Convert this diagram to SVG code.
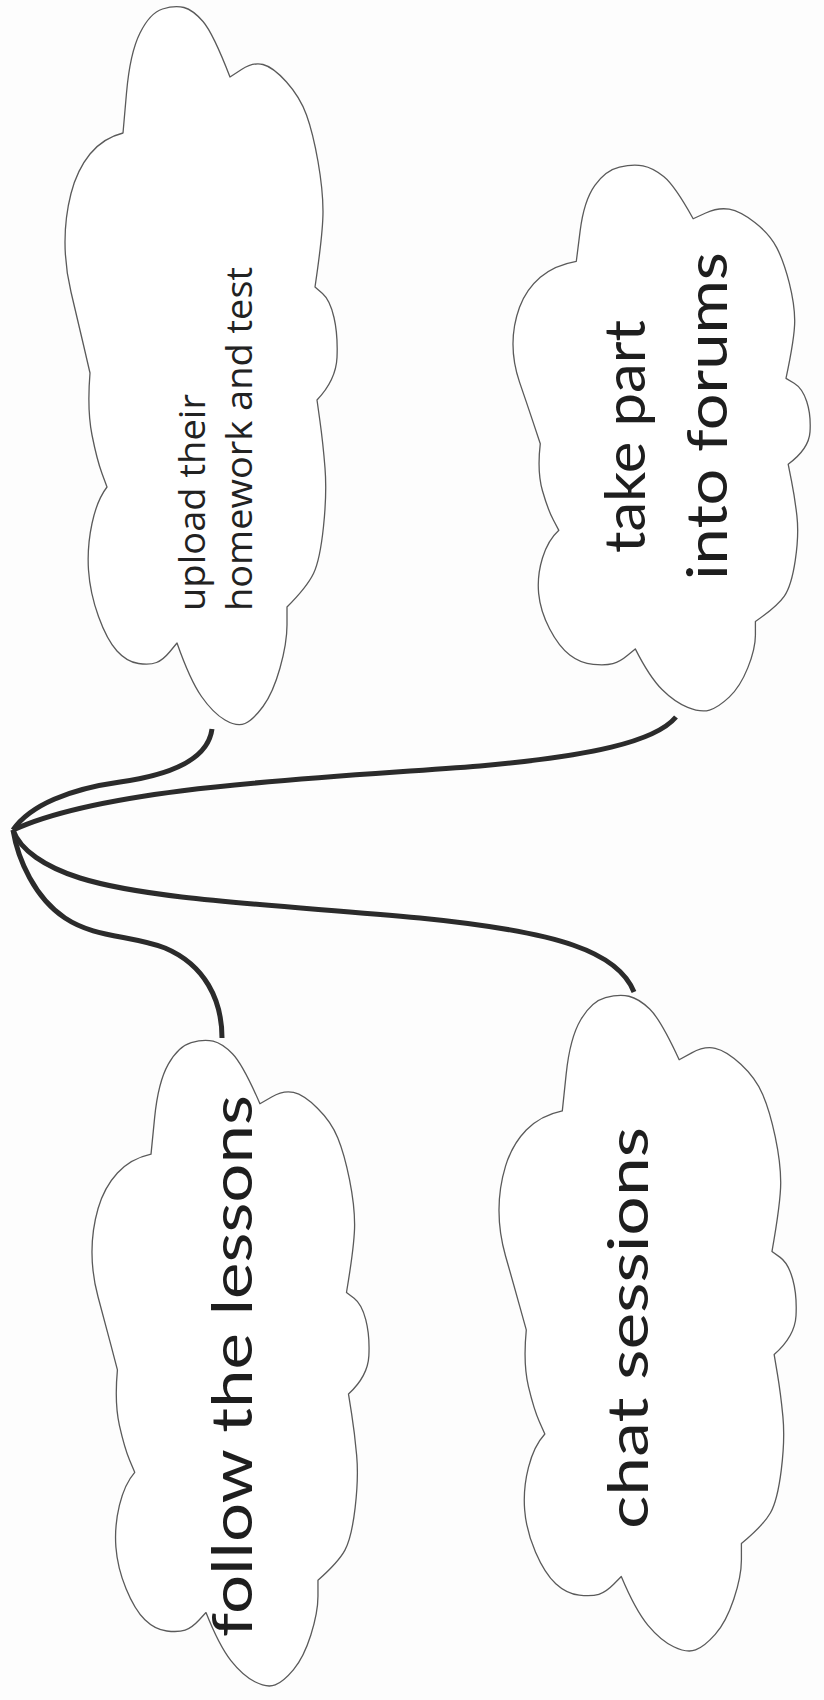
<svg xmlns="http://www.w3.org/2000/svg" xmlns:xlink="http://www.w3.org/1999/xlink" width="824" height="1700" viewBox="0 0 824 1700">
  <style>
    .cloud { fill: #ffffff; stroke: #5a5a5a; stroke-width: 1.3; stroke-linejoin: round; vector-effect: non-scaling-stroke; }
    .link { fill: none; stroke: #2b2b2b; stroke-width: 5; stroke-linecap: butt; }
    .plain { font-family: "Open Sans", "Liberation Sans", sans-serif; font-size: 37px; fill: #222; }
    .hand { font-family: "Comic Sans MS", "Lato", "DejaVu Sans", sans-serif; font-size: 56px; fill: #1e1e1e; }
  </style>
  <defs>
    <!-- one cloud outline (bbox 65,5 - 338,727), reused for every bubble -->
    <path id="cloud-shape" class="cloud" d="M123,133 L126.5,93 Q130,53 140,33 Q150,13 162.5,9 Q175,5 184,7.5 Q193,10 203,21.5 Q213,33 230,77
      L241.5,69.5 Q253,62 263,64.5 Q273,67 286.5,82 Q300,97 306.5,115 Q313,133 318,161.5 Q323,190 323,211.5 Q323,233 315,287
      L322.5,293.5 Q330,300 334,317.5 Q338,335 337,357.5 Q336,380 317,400
      L320,421.5 Q323,443 325,468 Q327,493 323.5,526.5 Q320,560 313.5,573.5 Q307,587 287,607
      L287,625 Q287,643 280,668 Q273,693 263,706.5 Q253,720 245,723.5 Q237,727 225,720 Q213,713 201.5,696.5 Q190,680 177,643
      L170,651.5 Q163,660 156.5,662.5 Q150,665 138.5,663.5 Q127,662 117,651 Q107,640 98.5,616.5 Q90,593 88.5,570 Q87,547 92,523.5 Q97,500 107,487
      L102,473.5 Q97,460 92,435 Q87,410 90,373
      L83.5,345 Q77,317 71,292 Q65,267 65,242 Q65,217 71,193.5 Q77,170 90,154 Q103,138 123,133 Z"/>
  </defs>
  <rect width="824" height="1700" fill="#fdfdfd"/>

  <g id="connectors">
    <path class="link" d="M212,729 C208,760 170,775 120,782 C70,789 30,805 13,830"/>
    <path class="link" d="M676,717 C655,742 590,756 480,766 C330,778 110,785 13,830"/>
    <path class="link" d="M634,992 C618,952 560,932 420,918 C280,905 150,900 80,878 C45,867 20,850 13,830"/>
    <path class="link" d="M222,1038 C222,1000 205,965 165,948 C130,935 95,938 65,918 C35,898 18,860 13,830"/>
  </g>

  <g id="node-upload">
    <use xlink:href="#cloud-shape"/>
    <text class="plain" transform="translate(205,611) rotate(-90)" textLength="217" lengthAdjust="spacingAndGlyphs">upload their</text>
    <text class="plain" transform="translate(252,611) rotate(-90)" textLength="344" lengthAdjust="spacingAndGlyphs">homework and test</text>
  </g>

  <g id="node-forums">
    <use xlink:href="#cloud-shape" transform="matrix(1.092 0 0 0.760 442 160.2)"/>
    <text class="hand" transform="translate(645,553) rotate(-90)" textLength="233" lengthAdjust="spacingAndGlyphs">take part</text>
    <text class="hand" transform="translate(727,580) rotate(-90)" textLength="328" lengthAdjust="spacingAndGlyphs">into forums</text>
  </g>

  <g id="node-lessons">
    <use xlink:href="#cloud-shape" transform="matrix(1.018 0 0 0.899 25.8 1034.5)"/>
    <text class="hand" transform="translate(252,1637) rotate(-90)" textLength="542" lengthAdjust="spacingAndGlyphs">follow the lessons</text>
  </g>

  <g id="node-chat">
    <use xlink:href="#cloud-shape" transform="matrix(1.092 0 0 0.913 428 989.4)"/>
    <text class="hand" transform="translate(648,1529) rotate(-90)" textLength="402" lengthAdjust="spacingAndGlyphs">chat sessions</text>
  </g>
</svg>
